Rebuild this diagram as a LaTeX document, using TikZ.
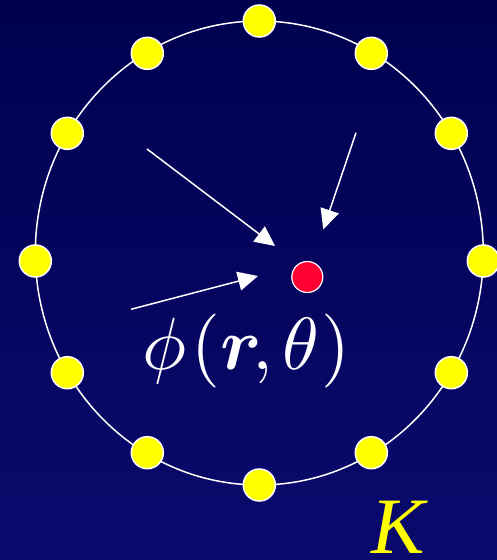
\documentclass[tikz,border=0pt]{standalone}
\usepackage{amsmath}
\usepackage{fontspec}
\newfontfamily\letraK{Liberation Serif}
\usetikzlibrary{arrows.meta}

\definecolor{fondoarriba}{RGB}{0,0,80}
\definecolor{fondoabajo}{RGB}{10,10,110}
\definecolor{amarillo}{RGB}{255,255,0}
\definecolor{rojo}{RGB}{255,0,51}

\tikzset{
  nodo/.style={circle, fill=amarillo, draw=white, line width=1.5pt,
               minimum size=32pt, inner sep=0pt},
  punto/.style={circle, fill=rojo, draw=white, line width=1.2pt,
                minimum size=31pt, inner sep=0pt},
  flecha/.style={white, line width=1.5pt, -{Triangle[length=20pt, width=19pt]}},
}

\begin{document}
\begin{tikzpicture}[x=1pt, y=-1pt]

% ================================================================
%  Fondo — 497 x 560, degradado azul marino
% ================================================================
\shade[top color=fondoarriba, bottom color=fondoabajo] (0,0) rectangle (497,560);
\useasboundingbox (0,0) rectangle (497,560);

% Contorno del disco
\draw[white, line width=1.5pt] (259.3,253) ellipse [x radius=224, y radius=232];

% Nodos del borde (12, cada 30 grados)
\foreach \xval/\yval [count=\i] in {259.3/21, 371.3/53.3, 451.3/133.3, 483.3/261,
    451.3/372.7, 371.3/452.7, 259.3/485, 147.3/452.7, 67.3/372.7, 35.3/261,
    67.3/133.3, 147.3/53.3}{
    \node[nodo] (n\i) at (\xval,\yval) {};
}

% Punto interior
\node[punto] (p) at (307.3,277) {};

% Flechas hacia el punto
\coordinate (a1) at (147,149);   \coordinate (b1) at (275,246);
\coordinate (a2) at (356,132.7); \coordinate (b2) at (323.3,229.3);
\coordinate (a3) at (131,309.3); \coordinate (b3) at (258,276);
\draw[flecha] (a1) -- (b1);
\draw[flecha] (a2) -- (b2);
\draw[flecha] (a3) -- (b3);

% Etiquetas
\node[white, scale=7.4, inner sep=0pt, anchor=base west] (fi) at (140.8,369)
    {$\phi\mkern1.2mu(\boldsymbol{r}\mkern-2.2mu,\mkern-0.8mu\theta\mkern0.7mu)$};
\node[amarillo, font=\letraK\itshape\fontsize{80}{90}\selectfont,
      inner sep=0pt, anchor=base] (k) at (398,553) {K};

\end{tikzpicture}
\end{document}
